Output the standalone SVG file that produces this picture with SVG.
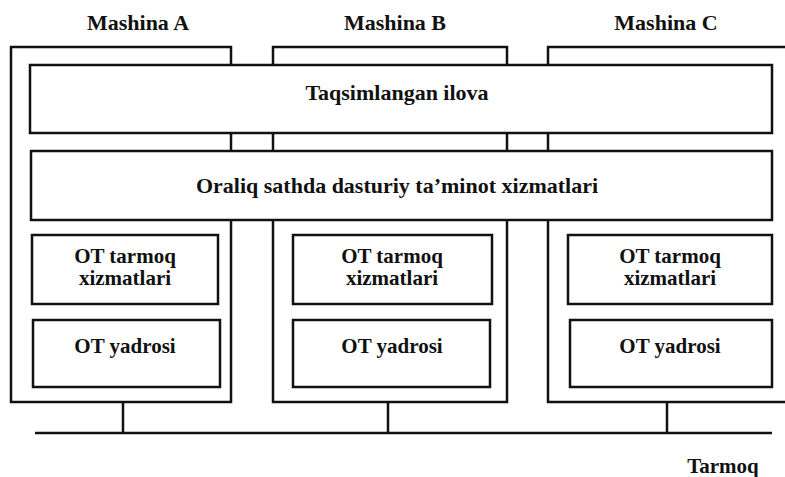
<svg xmlns="http://www.w3.org/2000/svg" width="785" height="477" viewBox="0 0 785 477">
<style>
.b{fill:#fff;stroke:#111;stroke-width:2.5}
.o{fill:none;stroke:#111;stroke-width:2.5}
text{font-weight:bold;font-size:22px;fill:#111;text-anchor:middle}
.s{font-size:21px}
</style>
<rect width="785" height="477" fill="#fff"/>
<g font-family="Liberation Serif, Times New Roman, serif">
<g id="machineA"><rect class="o" x="11" y="47" width="220" height="355"/><text x="138" y="30">Mashina A</text></g>
<g id="machineB"><rect class="o" x="273" y="47" width="234" height="355"/><text x="395" y="30">Mashina B</text></g>
<g id="machineC"><path class="o" d="M800 47 H548 V402 H800"/><text x="666" y="30">Mashina C</text></g>
<g id="app"><rect class="b" x="30" y="65" width="742" height="68"/><text x="397" y="100">Taqsimlangan ilova</text></g>
<g id="middleware"><rect class="b" x="31" y="151" width="741" height="69"/><text x="397" y="193">Oraliq sathda dasturiy ta’minot xizmatlari</text></g>
<g id="netA"><rect class="b" x="32" y="235" width="186" height="69"/><text class="s" x="125" y="263">OT tarmoq</text><text class="s" x="125" y="285">xizmatlari</text></g>
<g id="kernelA"><rect class="b" x="33" y="320" width="187" height="67"/><text class="s" x="125" y="353">OT yadrosi</text></g>
<g id="netB"><rect class="b" x="293" y="235" width="199" height="69"/><text class="s" x="392" y="263">OT tarmoq</text><text class="s" x="392" y="285">xizmatlari</text></g>
<g id="kernelB"><rect class="b" x="293" y="320" width="197" height="67"/><text class="s" x="392" y="353">OT yadrosi</text></g>
<g id="netC"><rect class="b" x="568" y="235" width="204" height="69"/><text class="s" x="670" y="263">OT tarmoq</text><text class="s" x="670" y="285">xizmatlari</text></g>
<g id="kernelC"><rect class="b" x="570" y="320" width="202" height="67"/><text class="s" x="670" y="353">OT yadrosi</text></g>
<g id="connectors">
<path class="o" d="M35 433 H772 M123 402 V433 M388 402 V433 M667 402 V433"/>
</g>
<g id="network"><text class="s" x="723" y="473">Tarmoq</text></g>
</g>
</svg>
